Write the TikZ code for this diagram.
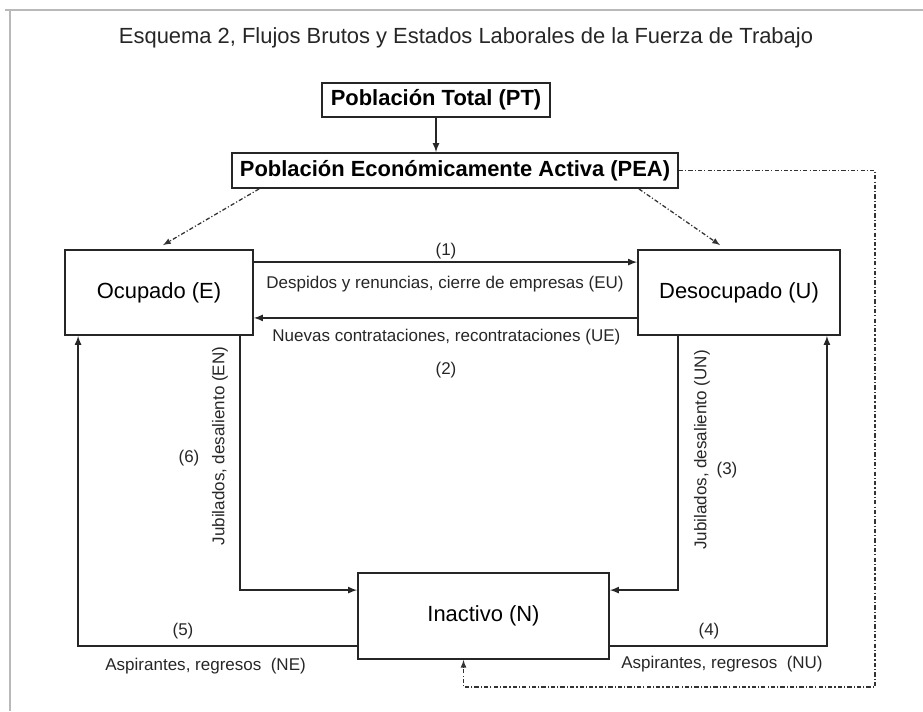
\documentclass[tikz,border=0pt]{standalone}
\usepackage{fontspec}
\setmainfont{Liberation Sans}
\usepackage{tikz}
\usetikzlibrary{calc}

\begin{document}
\begin{tikzpicture}[>=latex,
	caja/.style={draw=black!85, line width=1.3pt, inner sep=0pt, font=\fontsize{15.6}{18}\selectfont},
	cajabf/.style={caja, inner xsep=4pt, font=\fontsize{15.6}{18}\selectfont\bfseries},
	rotulo/.style={inner sep=1pt, text=black!85, font=\fontsize{12.1}{14}\selectfont},
	flujo/.style={draw=black!85, line width=1.2pt},
	punteo/.style={draw=black!80, line width=0.9pt, dash pattern=on 3pt off 1.5pt on 0.8pt off 1.5pt}]
	
	\useasboundingbox (0,0) rectangle (23.075,-17.775);
	
	\draw[gray!55, line width=1.4pt] (0.125,-0.25) -- (23.075,-0.25);
	\draw[gray!55, line width=1.4pt] (0.25,-0.25) -- (0.25,-17.775);
	
	\node[text=black!85, font=\fontsize{15.6}{18}\selectfont] (titulo) at (11.65,-0.95) {Esquema 2, Flujos Brutos y Estados Laborales de la Fuerza de Trabajo};
	
	\node[cajabf, minimum width=5.7cm, minimum height=0.85cm] (pt) at (10.9,-2.5) {Población Total (PT)};
	
	\node[cajabf, minimum width=11.15cm, minimum height=0.875cm] (pea) at (11.375,-4.2625) {Población Económicamente Activa (PEA)};
	
	\node[caja, minimum width=4.7cm, minimum height=2.125cm] (ocup) at (3.975,-7.3125) {Ocupado (E)};
	
	\node[caja, minimum width=5.05cm, minimum height=2.125cm] (desoc) at (18.475,-7.3125) {Desocupado (U)};
	
	\node[caja, minimum width=6.275cm, minimum height=2.15cm] (inact) at (12.0875,-15.4) {Inactivo (N)};
	
	\coordinate (vuelta) at (21.875,-17.175);
	
	\node[rotulo] (n1) at (11.15,-6.275) {(1)};
	
	\node[rotulo] (eu) at (11.125,-7.1) {Despidos y renuncias, cierre de empresas (EU)};
	
	\node[rotulo] (ue) at (11.16,-8.425) {Nuevas contrataciones, recontrataciones (UE)};
	
	\node[rotulo] (n2) at (11.15,-9.25) {(2)};
	
	\node[rotulo] (n6) at (4.725,-11.45) {(6)};
	
	\node[rotulo, rotate=90] (en) at (5.5,-11.15) {Jubilados, desaliento (EN)};
	
	\node[rotulo, rotate=90] (un) at (17.55,-11.25) {Jubilados, desaliento (UN)};
	
	\node[rotulo] (n3) at (18.175,-11.75) {(3)};
	
	\node[rotulo] (n5) at (4.575,-15.775) {(5)};
	
	\node[rotulo] (ne) at (5.14,-16.65) {Aspirantes, regresos\ \ (NE)};
	
	\node[rotulo] (n4) at (17.725,-15.775) {(4)};
	
	\node[rotulo] (nu) at (18.05,-16.6) {Aspirantes, regresos\ \ (NU)};
	
	\draw[flujo, ->] (pt.south) -- (pt.south |- pea.north);
	\draw[punteo, ->] ([xshift=0.7cm]pea.south west) -- ([xshift=0.1cm,yshift=0.1cm]ocup.north);
	\draw[punteo, ->] ([xshift=-1cm]pea.south east) -- ([xshift=-0.475cm,yshift=0.1cm]desoc.north);
	\draw[punteo, ->] (pea.east) -| (vuelta) -| ([xshift=-0.5cm]inact.south);
	
	\draw[flujo, ->] ([yshift=-0.325cm]ocup.north east) -- ([yshift=-0.325cm]desoc.north west);
	\draw[flujo, ->] ([yshift=0.45cm]desoc.south west) -- ([yshift=0.45cm]ocup.south east);
	\draw[flujo, ->] ([xshift=-0.35cm]ocup.south east) |- ([yshift=-0.45cm]inact.north west);
	\draw[flujo, ->] ([xshift=1.025cm]desoc.south west) |- ([yshift=-0.45cm]inact.north east);
	\draw[flujo, ->] ([yshift=0.35cm]inact.south west) -| ([xshift=0.35cm]ocup.south west);
	\draw[flujo, ->] ([yshift=0.35cm]inact.south east) -| ([xshift=-0.35cm]desoc.south east);
	
\end{tikzpicture}
\end{document}
